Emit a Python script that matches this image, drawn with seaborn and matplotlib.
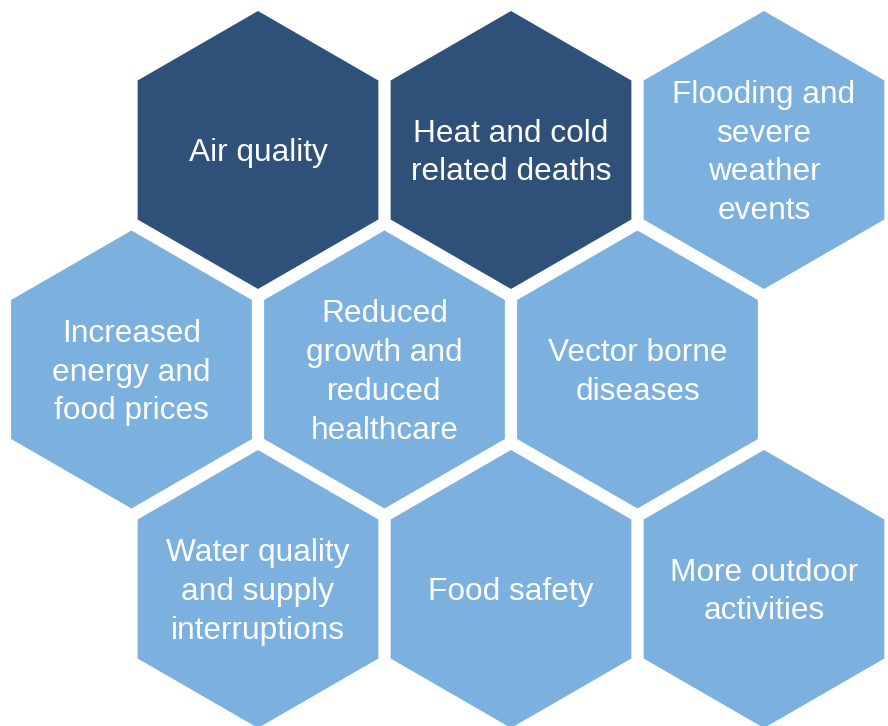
import numpy as np
import matplotlib.pyplot as plt
from matplotlib.patches import RegularPolygon
import seaborn as sns

sns.set_theme(style="white")
plt.rcParams['font.family'] = ['Liberation Sans', 'DejaVu Sans']

#%% data
labels = ["Air quality", "Heat and cold\nrelated deaths", "Flooding and\nsevere\nweather\nevents",
          "Increased\nenergy and\nfood prices", "Reduced\ngrowth and\nreduced\nhealthcare", "Vector borne\ndiseases",
          "Water quality\nand supply\ninterruptions", "Food safety", "More outdoor\nactivities"]
grid_row = [0, 0, 0, 1, 1, 1, 2, 2, 2]
grid_col = [0, 1, 2, 0, 1, 2, 0, 1, 2]
highlight = [1, 1, 0, 0, 0, 0, 0, 0, 0]

palette = {1: "#2F5179", 0: "#7CB1DF"}

#%% layout
R = 139
dx = 253
dy = 219.5

fig = plt.figure(figsize=(8.88, 7.26), dpi=100)
ax = fig.add_axes([0, 0, 1, 1])
ax.set_xlim(0, 888)
ax.set_ylim(726, 0)
ax.set_aspect('equal')
ax.axis('off')

for lab, r, c, h in zip(labels, grid_row, grid_col, highlight):
    x = 258 + c * dx - (dx / 2 if r % 2 == 1 else 0)
    y = 150 + r * dy
    ax.add_patch(RegularPolygon((x, y), numVertices=6, radius=R, orientation=0,
                                facecolor=palette[h], edgecolor='none'))
    ax.text(x, y + 3, lab, ha='center', va='center', multialignment='center',
            color='white', fontsize=22.8, linespacing=1.38)

plt.savefig('out.png', dpi=100)
